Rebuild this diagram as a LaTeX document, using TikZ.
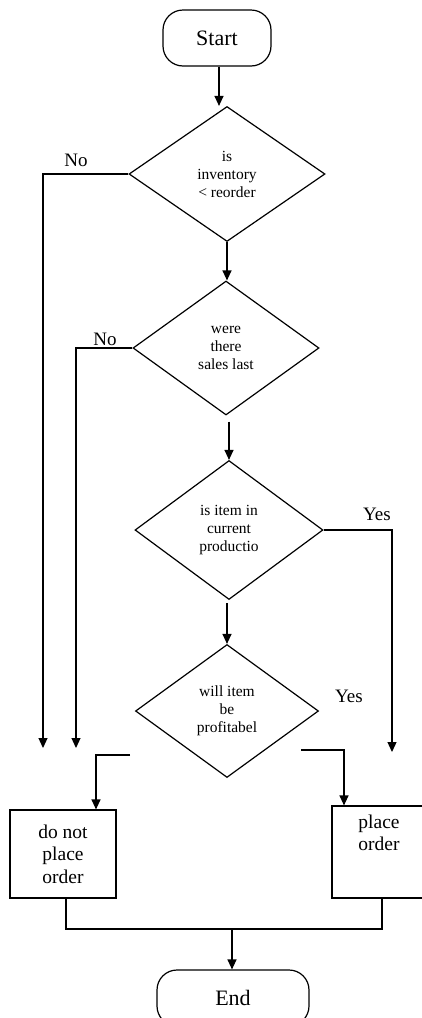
\documentclass[tikz,border=0pt]{standalone}
\usepackage{fontspec}
\setmainfont{Liberation Serif}
\usetikzlibrary{shapes.geometric,arrows.meta}
\begin{document}
\begin{tikzpicture}[x=1pt, y=-1pt, line width=1.2pt,
  terminal/.style={draw, rounded corners=20pt, minimum width=#1, minimum height=56pt,
    inner sep=0pt, font=\fontsize{22}{26}\selectfont},
  decision/.style 2 args={draw, diamond, minimum width=#1, minimum height=#2,
    inner sep=0pt, align=center, font=\fontsize{15.5}{18}\selectfont},
  action/.style 2 args={draw, minimum width=#1, minimum height=#2, inner sep=0pt,
    align=center, font=\fontsize{19.5}{22.5}\selectfont},
  branch/.style={font=\fontsize{19}{22}\selectfont, inner sep=0pt},
  arr/.style={-{Triangle[length=10pt,width=9pt]}}]
\useasboundingbox (0,0) rectangle (422,1018);

% terminals
\node[terminal=108pt] (Start) at (217,38) {Start};
\node[terminal=152pt] (End) at (233,998) {End};

% decisions
\node[decision={196pt}{135pt}] (D1) at (227,174) {is\\inventory\\< reorder};
\node[decision={186pt}{134pt}] (D2) at (226,348) {were\\there\\sales last};
\node[decision={188pt}{139pt}] (D3) at (229,530) {is item in\\current\\productio};
\node[decision={183pt}{133pt}] (D4) at (227,711) {will item\\be\\profitabel};

% actions
\node[action={106pt}{88pt}] (L) at (63,854) {do not\\place\\order};
\node[action={92pt}{92pt}] (R) at (378,852) {};
\node[font=\fontsize{19.5}{22.5}\selectfont, align=center, anchor=north, inner sep=0pt]
  (Rtext) at (379,814) {place\\order};

% branch labels
\node[branch] (no1) at (76,160) {No};
\node[branch] (no2) at (105,339) {No};
\node[branch] (yes1) at (377,514) {Yes};
\node[branch] (yes2) at (349,696) {Yes};

% free ends and junctions
\coordinate (n1) at (43,748);
\coordinate (n2) at (76,748);
\coordinate (y1) at (392,752);
\coordinate (a4l) at (130,755);
\coordinate (a4r) at (301,750);
\coordinate (jn) at (232,929);

% main flow
\draw[arr] ([xshift=2pt]Start.south) -- ([xshift=2pt]Start.south |- D1.north);
\draw[arr] (D1.south) -- (D1.south |- D2.north);
\draw[arr] ([yshift=-6pt]D3.north |- D2.south) -- (D3.north);
\draw[arr] ([yshift=-3pt]D4.north |- D3.south) -- (D4.north);

% branches
\draw[arr] (D1.west) -| (n1);
\draw[arr] (D2.west) -| (n2);
\draw[arr] (D3.east) -| (y1);
\draw[arr] (a4l) -| ([xshift=33pt]L.north);
\draw[arr] (a4r) -| ([xshift=-34pt]R.north);

% merge to end
\draw ([xshift=3pt]L.south) |- (jn) -| ([xshift=4pt]R.south);
\draw[arr] (jn) -- (jn |- End.north);
\end{tikzpicture}
\end{document}
